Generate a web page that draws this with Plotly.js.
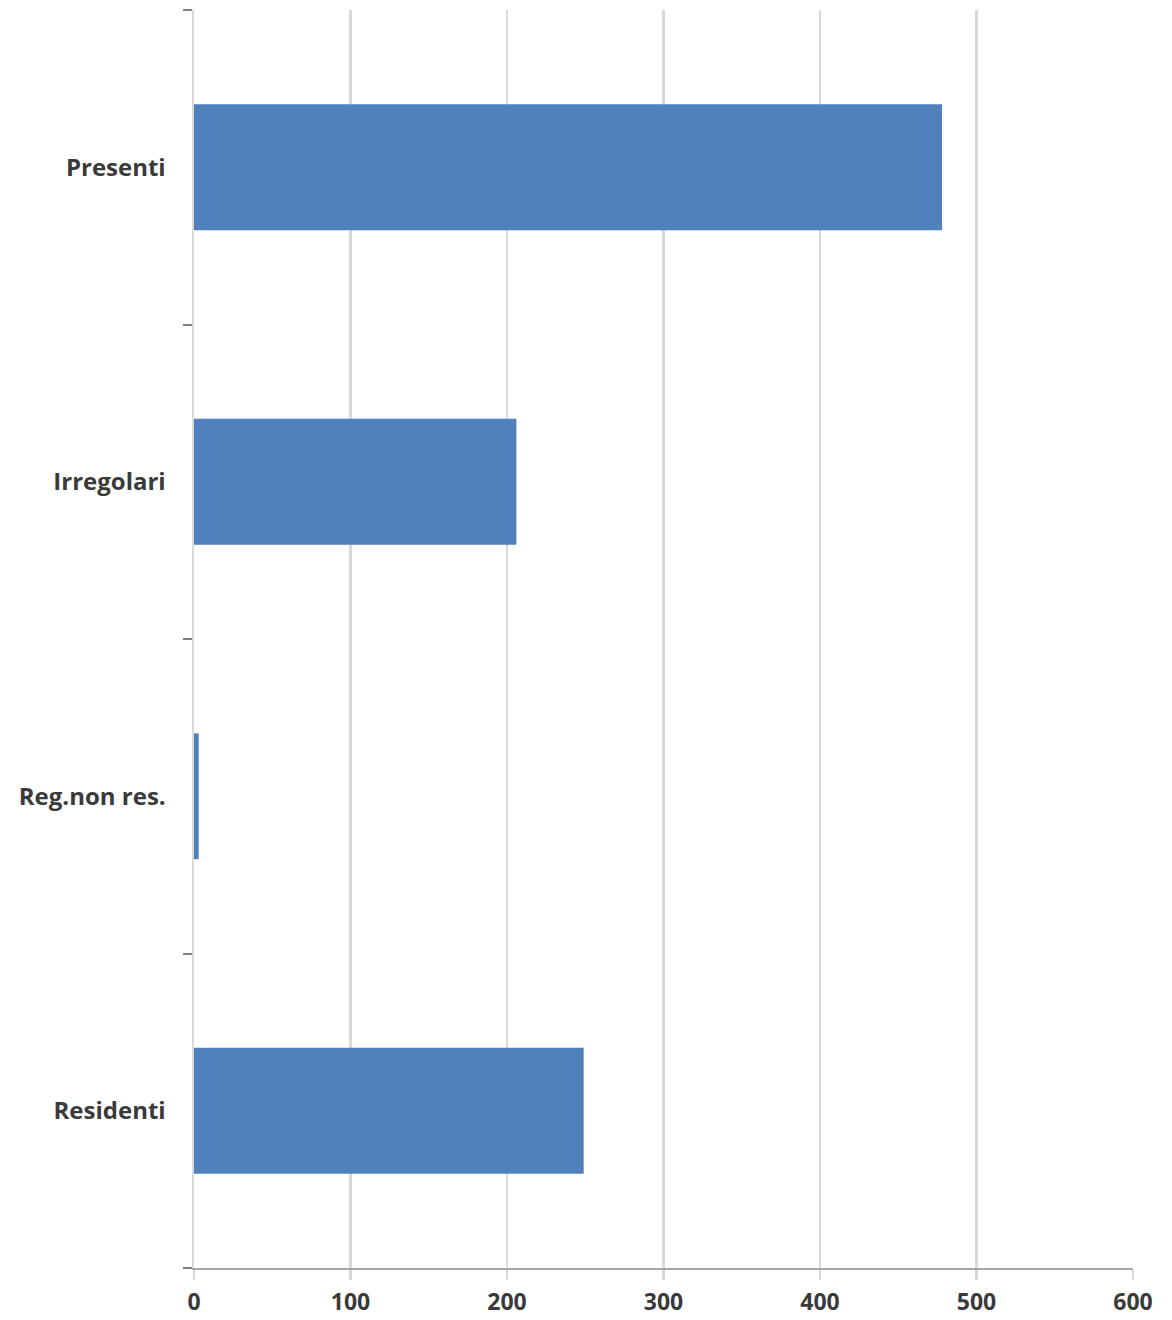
<!DOCTYPE html>
<html>
<head>
<meta charset="utf-8">
<script src="https://cdn.plot.ly/plotly-3.0.1.min.js"></script>
<style>
  html, body { margin: 0; padding: 0; background: #ffffff; }
  #chart { width: 1172px; height: 1320px; }
</style>
</head>
<body>
<div id="chart"></div>
<script>
// Categories listed bottom to top
const categories = ["Residenti", "Reg.non res.", "Irregolari", "Presenti"];
const values = [249, 3, 206, 478];
const xTicks = [0, 100, 200, 300, 400, 500, 600];

const labelFont = { family: "Open Sans, Lato, sans-serif", size: 24, color: "#3a3a3a", weight: 700 };
const xLabelFont = { family: "Open Sans, Lato, sans-serif", size: 23, color: "#3a3a3a", weight: 700 };

const trace = {
  type: "bar",
  orientation: "h",
  x: values,
  y: categories,
  marker: { color: "#4f81bd", line: { width: 0 } },
  hoverinfo: "x+y"
};

const layout = {
  width: 1172,
  height: 1320,
  margin: { l: 194, r: 39, t: 10, b: 52 },
  paper_bgcolor: "#ffffff",
  plot_bgcolor: "#ffffff",
  bargap: 0.6,
  showlegend: false,
  xaxis: {
    range: [0, 600],
    tickvals: xTicks,
    ticktext: xTicks.map(String),
    showgrid: true,
    gridcolor: "#d9d9d9",
    gridwidth: 2.5,
    zeroline: false,
    showline: true,
    linecolor: "#a6a6a6",
    linewidth: 2,
    ticks: "outside",
    ticklen: 10,
    tickwidth: 2.5,
    tickcolor: "#d9d9d9",
    ticklabelstandoff: 2,
    tickfont: xLabelFont,
    fixedrange: true
  },
  yaxis: {
    categoryorder: "array",
    categoryarray: categories,
    showgrid: false,
    zeroline: false,
    showline: true,
    linecolor: "#d9d9d9",
    linewidth: 2.5,
    ticks: "outside",
    tickson: "boundaries",
    ticklen: 9,
    tickwidth: 2,
    tickcolor: "#7f7f7f",
    ticklabelstandoff: 21,
    tickfont: labelFont,
    fixedrange: true
  }
};

Plotly.newPlot("chart", [trace], layout, { displayModeBar: false, staticPlot: true });
</script>
</body>
</html>
